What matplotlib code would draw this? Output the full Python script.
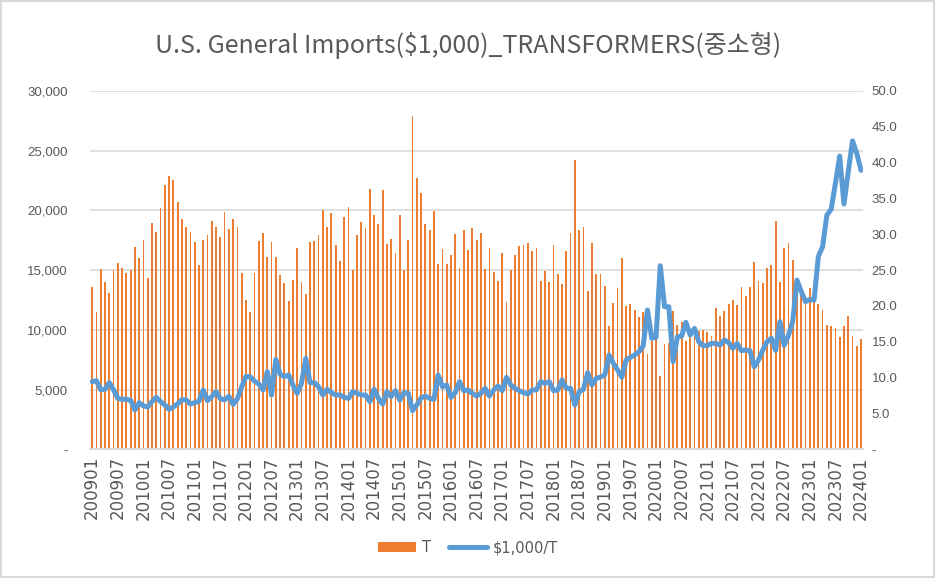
import matplotlib.pyplot as plt
import numpy as np
from matplotlib.patches import Rectangle

# monthly categories 200901 .. 202401
months = [f"{y}{m:02d}" for y in range(2009, 2025) for m in range(1, 13)][:181]

# imports in tonnes (bars, left axis)
tons = [
    13550, 11490, 15080, 13970, 13050, 15000, 15590, 15170, 14780, 15000, 16900, 16000,  # 2009
    17540, 14330, 18930, 18180, 20190, 22110, 22860, 22530, 20660, 19270, 18600, 18180,  # 2010
    17310, 15420, 17540, 17960, 19100, 18600, 17790, 19850, 18430, 19270, 18600, 14780,  # 2011
    12490, 11490, 14780, 17400, 18120, 16090, 17310, 16090, 14580, 13880, 12410, 14190,  # 2012
    16810, 13970, 12960, 17310, 17400, 17960, 20020, 18620, 19770, 17060, 15750, 19430,  # 2013
    20240, 15000, 17900, 19010, 18540, 21800, 19600, 18850, 21720, 17150, 17620, 16390,  # 2014
    19600, 15000, 17540, 27880, 22690, 21440, 18850, 18350, 19930, 15500, 16730, 15500,  # 2015
    16250, 18040, 15170, 18350, 16670, 18510, 17480, 18120, 15080, 16810, 14830, 14050,  # 2016
    16390, 12320, 15000, 16250, 17010, 17060, 17230, 16560, 16810, 14110, 14920, 14020,  # 2017
    17060, 14670, 13860, 16560, 18120, 24200, 18370, 18620, 13220, 17230, 14670, 14670,  # 2018
    13690, 10320, 12240, 13470, 16000, 11990, 12150, 11650, 11070, 11500, 7970, 9100,    # 2019
    9200, 6130, 8780, 8860, 11600, 10400, 10670, 9060, 9700, 9840, 9920, 10000,          # 2020
    9780, 9480, 11820, 11150, 11580, 12140, 12490, 12070, 13550, 12820, 13550, 15670,    # 2021
    14050, 13880, 15170, 15420, 19090, 14020, 16810, 17230, 15830, 14100, 13000, 12500,  # 2022
    13520, 12500, 12160, 11650, 10430, 10320, 10120, 9370, 10340, 11150, 9450, 8640,     # 2023
    9210,                                                                                # 2024
]

# unit value in $1,000 per tonne (line, right axis)
price = [
    9.43, 9.55, 8.30, 8.36, 9.30, 8.30, 7.10, 6.97, 6.97, 6.83, 5.48, 6.50,
    6.05, 5.90, 6.65, 7.25, 6.65, 6.18, 5.57, 5.90, 6.32, 6.92, 6.88, 6.32,
    6.50, 6.70, 8.27, 6.78, 7.34, 8.04, 7.05, 6.88, 7.40, 6.25, 7.05, 8.70,
    10.15, 10.10, 9.50, 9.10, 8.27, 10.82, 7.57, 12.55, 10.45, 10.13, 10.36, 8.96,
    7.80, 9.19, 12.68, 9.29, 9.29, 8.73, 7.57, 8.36, 7.90, 7.57, 7.57, 7.24,
    7.10, 8.03, 7.80, 7.57, 7.57, 6.64, 8.36, 7.10, 6.31, 8.03, 7.34, 8.17,
    6.87, 7.90, 7.80, 5.39, 6.18, 7.15, 7.43, 7.10, 6.97, 10.36, 8.73, 8.96,
    7.24, 7.90, 9.43, 8.17, 8.27, 7.80, 7.43, 7.80, 8.50, 7.43, 8.27, 8.82,
    8.17, 10.03, 8.96, 8.50, 8.17, 7.90, 7.71, 8.27, 8.27, 9.43, 9.20, 9.43,
    8.17, 8.27, 9.66, 8.50, 8.50, 6.18, 8.03, 8.36, 10.68, 8.96, 9.89, 10.08,
    10.36, 13.15, 11.99, 11.06, 10.03, 12.45, 12.82, 13.15, 13.61, 14.40, 19.42, 15.47,
    15.61, 25.60, 19.88, 19.88, 12.22, 15.70, 15.79, 17.70, 15.93, 16.86, 15.00, 14.45,
    14.45, 14.77, 14.77, 14.54, 15.24, 14.87, 14.07, 14.77, 13.75, 13.84, 13.75, 11.50,
    12.45, 13.84, 15.00, 15.50, 13.80, 17.80, 14.50, 15.90, 17.80, 23.60, 22.00, 20.60,
    20.90, 20.80, 26.86, 28.25, 32.66, 33.45, 37.07, 40.88, 34.20, 38.70, 43.00, 41.26,
    38.90,
]

title = "U.S. General Imports($1,000)_TRANSFORMERS(중소형)"
grey = "#595959"

fig = plt.figure(figsize=(9.36, 5.78), dpi=100)
ax = fig.add_axes([0.0962, 0.2227, 0.826, 0.6203])
ax2 = ax.twinx()

x = np.arange(len(months))
ax.bar(x, tons, width=0.42, color="#ED7D31", label="T", zorder=2)
ax2.plot(x, price, color="#5B9BD5", lw=3.6, label="$1,000/T",
         solid_joinstyle="round", solid_capstyle="round")

ax.set_xlim(-0.5, len(months) - 0.5)
ax.set_ylim(0, 30000)
ax2.set_ylim(0, 50)

left_ticks = np.arange(0, 30001, 5000)
ax.set_yticks(left_ticks)
ax.set_yticklabels([f"{v:,}" if v else "-" for v in left_ticks], fontsize=9.5,
                   family="Liberation Sans", color=grey)
right_ticks = np.arange(0, 51, 5)
ax2.set_yticks(right_ticks)
ax2.set_yticklabels([f"{v:.1f}" if v else "-" for v in right_ticks], fontsize=9.5,
                    family="Liberation Sans", color=grey)

ax.set_xticks(x[::6])
ax.set_xticklabels(months[::6], rotation=90, fontsize=12, color=grey)

ax.yaxis.grid(True, color="#D9D9D9", lw=1.2)
ax.set_axisbelow(True)
for a in (ax, ax2):
    for side in ("top", "left", "right"):
        a.spines[side].set_visible(False)
    a.spines["bottom"].set_color("#D9D9D9")
    a.spines["bottom"].set_linewidth(1.2)
ax.tick_params(axis="y", length=0, pad=16)
ax.tick_params(axis="x", length=0, pad=5)
ax2.tick_params(axis="y", length=0, pad=6)

fig.text(0.5, 0.921, title, ha="center", va="center", fontsize=18, color=grey,
         family=["Noto Sans CJK KR", "DejaVu Sans"])

h1, l1 = ax.get_legend_handles_labels()
h2, l2 = ax2.get_legend_handles_labels()
fig.legend(h1 + h2, l1 + l2, loc="center", bbox_to_anchor=(0.5, 0.052), ncol=2,
           frameon=False, fontsize=10.5, labelcolor=grey, handlelength=2.6,
           columnspacing=1.2, handletextpad=0.4)

fig.patches.append(Rectangle((0.001, 0.002), 0.997, 0.996, transform=fig.transFigure,
                             fill=False, ec="#D9D9D9", lw=1.5))

fig.savefig("out.png", dpi=100)
